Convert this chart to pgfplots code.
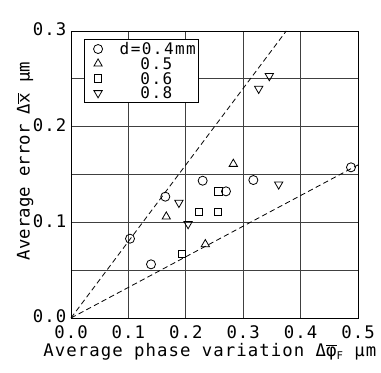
\documentclass[border=0pt]{standalone}
\usepackage{pgfplots}
\pgfplotsset{compat=1.18}
\usetikzlibrary{calc}
\usepackage{fontspec}
\setmainfont{DejaVu Sans Mono}
\newfontfamily\widefont[LetterSpace=6]{DejaVu Sans Mono}
\newfontfamily\legfont[LetterSpace=9]{DejaVu Sans Mono}
\begin{document}
\begin{tikzpicture}
\begin{axis}[
  name=ax,
  scale only axis,
  width=215.25pt, height=215.25pt,
  xmin=0, xmax=0.5, ymin=0, ymax=0.3,
  xtick={0,0.1,0.2,0.3,0.4,0.5},
  xticklabels={0.0,0.1,0.2,0.3,0.4,0.5},
  ytick={0,0.05,0.1,0.15,0.2,0.25,0.3},
  yticklabels={0.0,,0.1,,0.2,,0.3},
  grid=major,
  major grid style={black!75, line width=0.5pt},
  major tick length=0pt,
  axis line style={black, line width=0.6pt},
  tick label style={font=\fontsize{13}{13}\widefont},
  xticklabel style={yshift=-2.5pt},
  yticklabel style={yshift=1pt},
  label style={font=\fontsize{13}{13}\selectfont},
  xlabel={\widefont Average phase variation Δ$\overline{\hbox{φ}}$\raisebox{-0.3ex}{\fontsize{8}{8}\selectfont F} µm},
  ylabel={Average error Δ$\overline{\hbox{x}}$ µm},
  xlabel style={at={(axis description cs:0.484,-0.134)}, anchor=base},
  ylabel style={at={(axis description cs:-0.16,0.547)}, anchor=center},
  clip=false,
  legend cell align=left,
  legend style={at={(0.0453,0.972)}, anchor=north west, draw=black, line width=0.6pt,
    font=\fontsize{12}{12}\legfont, row sep=2.2pt, column sep=0pt,
    inner xsep=2.25pt, inner ysep=2.8pt,
    nodes={inner sep=0pt, text height=8.8pt, text depth=0pt}},
  legend image code/.code={%
    \path[draw=none, fill=none] (0pt,-4.4pt) rectangle (24.25pt,4.4pt);
    \draw[#1] plot coordinates {(8pt,0pt)};},
]
\addplot[only marks, mark=o, mark size=3.4pt, black, line width=0.6pt] coordinates {
 (0.1028,0.0829) (0.1394,0.0561) (0.1643,0.1268) (0.2294,0.1435) (0.2700,0.1324) (0.3177,0.1442) (0.4878,0.1575)};
\addlegendentry{d=0.4mm}
\addplot[only marks, mark=triangle, mark size=3.6pt, black, line width=0.6pt] coordinates {
 (0.1660,0.1059) (0.2340,0.0770) (0.2828,0.1610)};
\addlegendentry{\phantom{d=}0.5}
\addplot[only marks, mark=square, mark size=2.7pt, black, line width=0.6pt] coordinates {
 (0.1934,0.0669) (0.2235,0.1105) (0.2555,0.1108) (0.2567,0.1324)};
\addlegendentry{\phantom{d=}0.6}
\addplot[only marks, mark=triangle, mark options={rotate=180}, mark size=3.6pt, black, line width=0.6pt] coordinates {
 (0.1880,0.1205) (0.2040,0.0983) (0.3270,0.2397) (0.3455,0.2530) (0.3618,0.1397)};
\addlegendentry{\phantom{d=}0.8}
\addplot[black, line width=0.6pt, dash pattern=on 4pt off 2.5pt, forget plot] coordinates {(0,0) (0.375,0.3)};
\addplot[black, line width=0.6pt, dash pattern=on 4pt off 2.5pt, forget plot] coordinates {(0,0) (0.5,0.16)};
\end{axis}
\pgfresetboundingbox
\useasboundingbox ($(ax.south west)+(-53.25pt,-41.25pt)$) rectangle ($(ax.north east)+(17.25pt,23.25pt)$);
\end{tikzpicture}
\end{document}
